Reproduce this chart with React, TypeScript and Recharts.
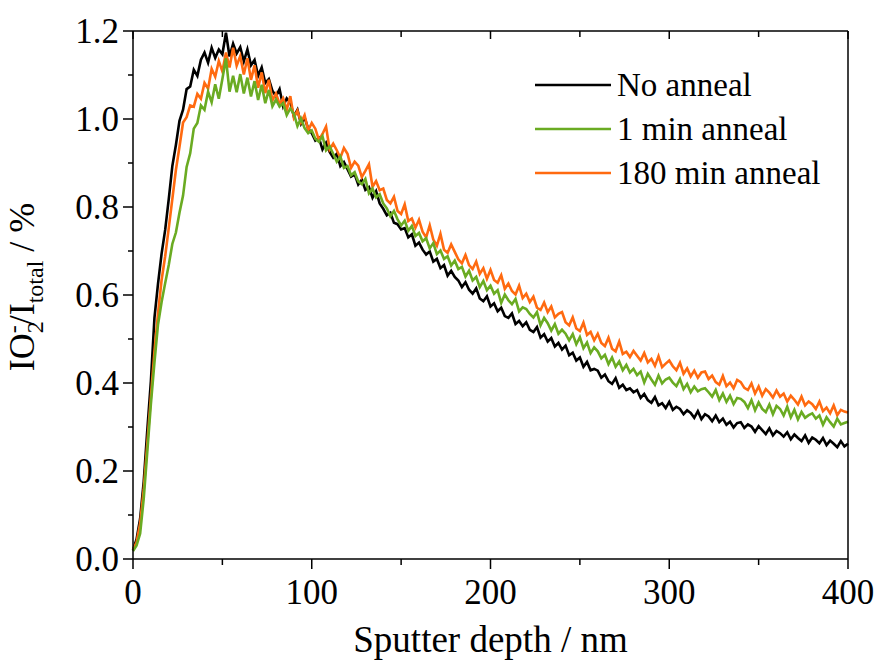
import { LineChart, Line, XAxis, YAxis, Legend } from 'recharts';

// sputter depth sampled every 2 nm, 0..400
const depthStep = 2;

const noAnneal = [
  0.020, 0.045, 0.092, 0.176, 0.293, 0.404, 0.548, 0.626, 0.694, 0.748,
  0.818, 0.893, 0.941, 0.996, 1.021, 1.068, 1.074, 1.112, 1.098, 1.135,
  1.151, 1.128, 1.162, 1.139, 1.158, 1.147, 1.196, 1.142, 1.171, 1.149,
  1.163, 1.131, 1.158, 1.122, 1.134, 1.098, 1.117, 1.082, 1.091, 1.064,
  1.052, 1.068, 1.029, 1.047, 1.038, 1.006, 1.021, 0.989, 1.003, 0.978,
  0.968, 0.951, 0.957, 0.931, 0.946, 0.925, 0.912, 0.921, 0.893, 0.902,
  0.886, 0.869, 0.874, 0.851, 0.862, 0.839, 0.845, 0.821, 0.836, 0.808,
  0.796, 0.781, 0.787, 0.764, 0.761, 0.749, 0.752, 0.731, 0.738, 0.712,
  0.719, 0.703, 0.692, 0.699, 0.676, 0.682, 0.661, 0.668, 0.644, 0.655,
  0.641, 0.633, 0.618, 0.629, 0.612, 0.603, 0.615, 0.592, 0.586, 0.597,
  0.574, 0.581, 0.563, 0.571, 0.552, 0.548, 0.558, 0.534, 0.541, 0.529,
  0.538, 0.521, 0.516, 0.527, 0.503, 0.511, 0.494, 0.502, 0.483, 0.491,
  0.476, 0.485, 0.463, 0.469, 0.451, 0.458, 0.437, 0.448, 0.429, 0.432,
  0.428, 0.412, 0.419, 0.404, 0.398, 0.411, 0.389, 0.396, 0.384, 0.388,
  0.379, 0.384, 0.366, 0.375, 0.361, 0.355, 0.368, 0.349, 0.354, 0.343,
  0.357, 0.339, 0.346, 0.341, 0.329, 0.338, 0.332, 0.321, 0.336, 0.318,
  0.329, 0.324, 0.313, 0.326, 0.311, 0.319, 0.305, 0.312, 0.299, 0.309,
  0.311, 0.298, 0.306, 0.301, 0.289, 0.302, 0.293, 0.284, 0.297, 0.281,
  0.291, 0.286, 0.278, 0.288, 0.272, 0.283, 0.275, 0.268, 0.281, 0.264,
  0.276, 0.271, 0.263, 0.275, 0.259, 0.269, 0.262, 0.254, 0.268, 0.256,
  0.262,
];

const anneal1min = [
  0.018, 0.031, 0.058, 0.137, 0.244, 0.352, 0.447, 0.533, 0.584, 0.627,
  0.668, 0.716, 0.742, 0.787, 0.826, 0.891, 0.922, 0.978, 0.991, 1.031,
  1.021, 1.062, 1.038, 1.079, 1.046, 1.091, 1.138, 1.062, 1.098, 1.061,
  1.102, 1.058, 1.094, 1.051, 1.086, 1.043, 1.078, 1.036, 1.066, 1.029,
  1.044, 1.028, 1.036, 1.009, 1.024, 1.012, 0.984, 1.001, 0.979, 0.968,
  0.974, 0.955, 0.948, 0.961, 0.929, 0.938, 0.921, 0.903, 0.915, 0.889,
  0.893, 0.872, 0.879, 0.858, 0.852, 0.864, 0.831, 0.842, 0.822, 0.829,
  0.808, 0.797, 0.779, 0.791, 0.772, 0.758, 0.769, 0.746, 0.757, 0.734,
  0.741, 0.722, 0.729, 0.706, 0.718, 0.693, 0.701, 0.682, 0.688, 0.667,
  0.678, 0.659, 0.664, 0.642, 0.655, 0.633, 0.641, 0.618, 0.632, 0.611,
  0.621, 0.603, 0.611, 0.582, 0.601, 0.588, 0.579, 0.591, 0.563, 0.572,
  0.568, 0.557, 0.549, 0.561, 0.531, 0.548, 0.536, 0.519, 0.534, 0.512,
  0.521, 0.512, 0.497, 0.511, 0.488, 0.504, 0.479, 0.492, 0.468, 0.481,
  0.472, 0.456, 0.464, 0.443, 0.458, 0.437, 0.449, 0.429, 0.441, 0.424,
  0.432, 0.418, 0.426, 0.401, 0.421, 0.408, 0.396, 0.417, 0.399, 0.408,
  0.412, 0.401, 0.393, 0.409, 0.386, 0.398, 0.379, 0.392, 0.381, 0.386,
  0.388, 0.379, 0.369, 0.384, 0.361, 0.376, 0.357, 0.371, 0.352, 0.366,
  0.364, 0.357, 0.343, 0.361, 0.338, 0.356, 0.341, 0.334, 0.351, 0.329,
  0.348, 0.341, 0.326, 0.346, 0.322, 0.339, 0.317, 0.334, 0.321, 0.327,
  0.331, 0.319, 0.326, 0.305, 0.322, 0.311, 0.301, 0.319, 0.306, 0.309,
  0.312,
];

const anneal180min = [
  0.021, 0.038, 0.081, 0.158, 0.262, 0.368, 0.472, 0.558, 0.634, 0.688,
  0.752, 0.818, 0.884, 0.937, 0.992, 1.004, 1.031, 1.028, 1.057, 1.046,
  1.082, 1.069, 1.114, 1.096, 1.132, 1.108, 1.151, 1.117, 1.162, 1.121,
  1.143, 1.101, 1.138, 1.089, 1.122, 1.071, 1.106, 1.059, 1.089, 1.042,
  1.058, 1.034, 1.047, 1.021, 1.052, 1.003, 1.019, 0.992, 1.009, 0.974,
  0.991, 0.978, 0.952, 0.966, 0.983, 0.931, 0.944, 0.929, 0.912, 0.934,
  0.921, 0.889, 0.903, 0.894, 0.868, 0.882, 0.897, 0.846, 0.859, 0.838,
  0.842, 0.816, 0.808, 0.823, 0.791, 0.784, 0.806, 0.768, 0.774, 0.753,
  0.771, 0.744, 0.731, 0.758, 0.726, 0.712, 0.739, 0.703, 0.696, 0.715,
  0.698, 0.681, 0.672, 0.691, 0.668, 0.659, 0.676, 0.648, 0.661, 0.637,
  0.657, 0.634, 0.628, 0.645, 0.614, 0.626, 0.609, 0.601, 0.621, 0.593,
  0.603, 0.584, 0.596, 0.571, 0.566, 0.583, 0.561, 0.574, 0.549, 0.557,
  0.561, 0.538, 0.531, 0.549, 0.524, 0.518, 0.537, 0.509, 0.516, 0.497,
  0.512, 0.491, 0.484, 0.503, 0.478, 0.472, 0.494, 0.466, 0.471, 0.459,
  0.473, 0.462, 0.451, 0.468, 0.447, 0.455, 0.439, 0.461, 0.436, 0.444,
  0.451, 0.438, 0.429, 0.446, 0.421, 0.433, 0.415, 0.428, 0.412, 0.424,
  0.426, 0.409, 0.417, 0.402, 0.396, 0.416, 0.393, 0.401, 0.388, 0.407,
  0.402, 0.389, 0.384, 0.399, 0.376, 0.392, 0.371, 0.386, 0.378, 0.367,
  0.383, 0.369, 0.376, 0.358, 0.371, 0.362, 0.351, 0.369, 0.349, 0.358,
  0.352, 0.341, 0.358, 0.336, 0.344, 0.331, 0.349, 0.327, 0.339, 0.335,
  0.333,
];

const xTicks = [0, 50, 100, 150, 200, 250, 300, 350, 400];
const xLabelled = [0, 100, 200, 300, 400];
const yTicks = [0, 0.1, 0.2, 0.3, 0.4, 0.5, 0.6, 0.7, 0.8, 0.9, 1.0, 1.1, 1.2];
const yLabelled = [0, 0.2, 0.4, 0.6, 0.8, 1.0, 1.2];

const seriesNames = ['No anneal', '1 min anneal', '180 min anneal'];
const colors = { noAnneal: '#000000', anneal1min: '#6aab22', anneal180min: '#ff6a10' };

const data = noAnneal.map((v, i) => ({
  depth: i * depthStep,
  noAnneal: v,
  anneal1min: anneal1min[i],
  anneal180min: anneal180min[i],
}));

const FONT = '"Liberation Serif", "Times New Roman", serif';
const isOn = (list: number[], v: number) => list.some((t) => Math.abs(t - v) < 1e-6);

const BottomTick = (props: any) => {
  const { x, y, payload } = props;
  const major = isOn(xLabelled, payload.value);
  return (
    <g>
      <line x1={x} x2={x} y1={y} y2={y + (major ? 10 : 6)} stroke="#000" strokeWidth={1.5} />
      {major && (
        <text x={x} y={y + 45} textAnchor="middle" fontFamily={FONT} fontSize={35} fill="#000">
          {payload.value}
        </text>
      )}
    </g>
  );
};

const LeftTick = (props: any) => {
  const { x, y, payload } = props;
  const major = isOn(yLabelled, payload.value);
  return (
    <g>
      <line x1={x - (major ? 10 : 5)} x2={x} y1={y} y2={y} stroke="#000" strokeWidth={1.5} />
      {major && (
        <text x={x - 14} y={y + 12} textAnchor="end" fontFamily={FONT} fontSize={35} fill="#000">
          {payload.value.toFixed(1)}
        </text>
      )}
    </g>
  );
};

const RightTick = (props: any) => {
  const { x, y, payload } = props;
  const major = isOn(yLabelled, payload.value);
  return <line x1={x - (major ? 8 : 6)} x2={x} y1={y} y2={y} stroke="#000" strokeWidth={1.5} />;
};

const TopTick = (props: any) => {
  const { x, y, payload } = props;
  const major = isOn(xLabelled, payload.value);
  return <line x1={x} x2={x} y1={y} y2={y + (major ? 8 : 6)} stroke="#000" strokeWidth={1.5} />;
};

const YTitle = (props: any) => {
  const vb = props.viewBox;
  const cx = vb.x + 34;
  const cy = vb.y + vb.height / 2 - 8;
  return (
    <text
      x={cx}
      y={cy}
      transform={`rotate(-90, ${cx}, ${cy})`}
      textAnchor="middle"
      fontFamily={FONT}
      fontSize={36}
      fill="#000"
    >
      IO
      <tspan fontSize={24} dy={9}>2</tspan>
      <tspan fontSize={24} dx={-12} dy={-22}>-</tspan>
      <tspan dy={13}>/I</tspan>
      <tspan fontSize={24} dy={9}>total</tspan>
      <tspan dy={-9}> / %</tspan>
    </text>
  );
};

const XTitle = (props: any) => {
  const vb = props.viewBox;
  return (
    <text
      x={vb.x + vb.width / 2}
      y={vb.y + 93}
      textAnchor="middle"
      fontFamily={FONT}
      fontSize={37}
      fill="#000"
    >
      Sputter depth / nm
    </text>
  );
};

const LegendBox = () => {
  const keys = ['noAnneal', 'anneal1min', 'anneal180min'] as const;
  return (
    <div style={{ fontFamily: FONT, fontSize: 33, color: '#000' }}>
      {keys.map((k, i) => (
        <div key={k} style={{ display: 'flex', alignItems: 'center', height: 44 }}>
          <svg width={76} height={6} style={{ marginRight: 6 }}>
            <line x1={0} x2={76} y1={3} y2={3} stroke={colors[k]} strokeWidth={2.5} />
          </svg>
          <span style={{ whiteSpace: 'nowrap' }}>{seriesNames[i]}</span>
        </div>
      ))}
    </div>
  );
};

export default function App() {
  return (
    <div style={{ position: 'absolute', left: 0, top: 0, width: 880, height: 661, background: '#fff' }}>
      <LineChart width={880} height={661} data={data} margin={{ top: 30, right: 31, bottom: 0, left: 0 }}>
        <XAxis
          dataKey="depth"
          type="number"
          domain={[0, 400]}
          ticks={xTicks}
          interval={0}
          height={102}
          tickSize={0}
          tickMargin={0}
          tickLine={false}
          tick={<BottomTick />}
          axisLine={{ stroke: '#000', strokeWidth: 1.5 }}
          label={<XTitle />}
        />
        <XAxis
          xAxisId="top"
          orientation="top"
          dataKey="depth"
          type="number"
          domain={[0, 400]}
          ticks={xTicks}
          interval={0}
          height={1}
          tickSize={0}
          tickMargin={0}
          tickLine={false}
          tick={<TopTick />}
          axisLine={{ stroke: '#000', strokeWidth: 1.5 }}
        />
        <YAxis
          type="number"
          domain={[0, 1.2]}
          ticks={yTicks}
          interval={0}
          width={133}
          tickSize={0}
          tickMargin={0}
          tickLine={false}
          tick={<LeftTick />}
          axisLine={{ stroke: '#000', strokeWidth: 1.5 }}
          label={<YTitle />}
        />
        <YAxis
          yAxisId="right"
          orientation="right"
          type="number"
          domain={[0, 1.2]}
          ticks={yTicks}
          interval={0}
          width={1}
          tickSize={0}
          tickMargin={0}
          tickLine={false}
          tick={<RightTick />}
          axisLine={{ stroke: '#000', strokeWidth: 1.5 }}
        />
        <Legend
          layout="vertical"
          verticalAlign="middle"
          align="center"
          content={<LegendBox />}
          wrapperStyle={{ position: 'absolute', left: 535, top: 63, width: 300 }}
        />
        <Line
          dataKey="noAnneal"
          name={seriesNames[0]}
          stroke={colors.noAnneal}
          strokeWidth={2.6}
          dot={false}
          isAnimationActive={false}
        />
        <Line
          dataKey="anneal180min"
          name={seriesNames[2]}
          stroke={colors.anneal180min}
          strokeWidth={2.6}
          dot={false}
          isAnimationActive={false}
        />
        <Line
          dataKey="anneal1min"
          name={seriesNames[1]}
          stroke={colors.anneal1min}
          strokeWidth={2.6}
          dot={false}
          isAnimationActive={false}
        />
      </LineChart>
    </div>
  );
}
